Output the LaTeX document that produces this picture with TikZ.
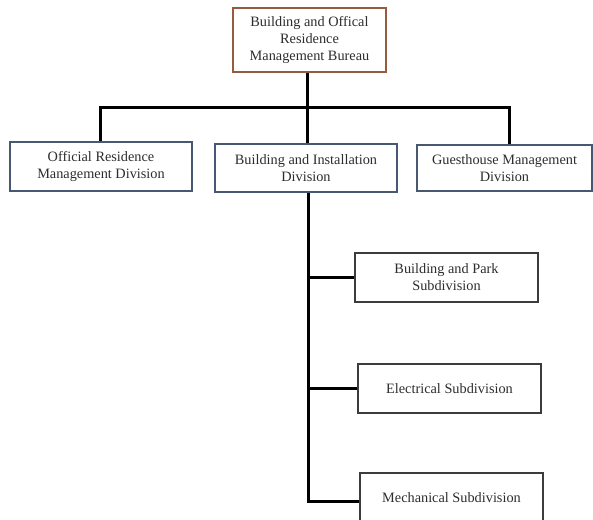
\documentclass[tikz,border=0pt]{standalone}
\usepackage{fontspec}
\setmainfont{Liberation Serif}
\begin{document}
\begin{tikzpicture}[x=1pt,y=-1pt,
  box/.style={draw, line width=1.2pt, fill=white, text=textgray, align=center,
    inner sep=2pt, font=\fontsize{14.3}{17}\selectfont},
  conn/.style={line width=3pt, black},
]
\definecolor{textgray}{RGB}{45,45,45}
\definecolor{brownb}{RGB}{150,92,62}
\definecolor{blueb}{RGB}{72,88,115}
\definecolor{grayb}{RGB}{60,60,60}
\useasboundingbox (0,0) rectangle (593,519);
\clip (0,0) rectangle (593,519);
\node[box, draw=brownb, minimum width=153pt, minimum height=64pt] (top) at (309.5,40)
  {Building and Offical\\Residence\\Management Bureau};
\node[box, draw=blueb, minimum width=182pt, minimum height=49pt] (ord) at (101,166.5)
  {Official Residence\\Management Division};
\node[box, draw=blueb, minimum width=182pt, minimum height=48pt] (bid) at (306,168)
  {Building and Installation\\Division};
\node[box, draw=blueb, minimum width=175pt, minimum height=46pt] (gmd) at (504.5,168)
  {Guesthouse Management\\Division};
\node[box, draw=grayb, minimum width=183pt, minimum height=49pt] (bps) at (446.5,277.5)
  {Building and Park\\Subdivision};
\node[box, draw=grayb, minimum width=183pt, minimum height=49pt] (els) at (449.5,388.5)
  {Electrical Subdivision};
\node[box, draw=grayb, minimum width=183pt, minimum height=50pt] (mes) at (451.5,498)
  {Mechanical Subdivision};
\coordinate (lA) at (100,107);
\coordinate (lB) at (307,107);
\coordinate (lC) at (509,107);
\coordinate (sp) at (308,503);
\coordinate (b3) at (308,501);
\draw[conn] (top.south -| lB) -- (lB);
\draw[conn] ([xshift=-1.5pt]lA) -- ([xshift=1.5pt]lC);
\draw[conn] (lA) -- (lA |- ord.north);
\draw[conn] (lB) -- (lB |- bid.north);
\draw[conn] (lC) -- (lC |- gmd.north);
\draw[conn] (bid.south -| sp) -- (sp);
\draw[conn] (sp |- bps.west) -- (bps.west);
\draw[conn] (sp |- els.west) -- (els.west);
\draw[conn] (b3) -- (b3 -| mes.west);
\end{tikzpicture}
\end{document}
